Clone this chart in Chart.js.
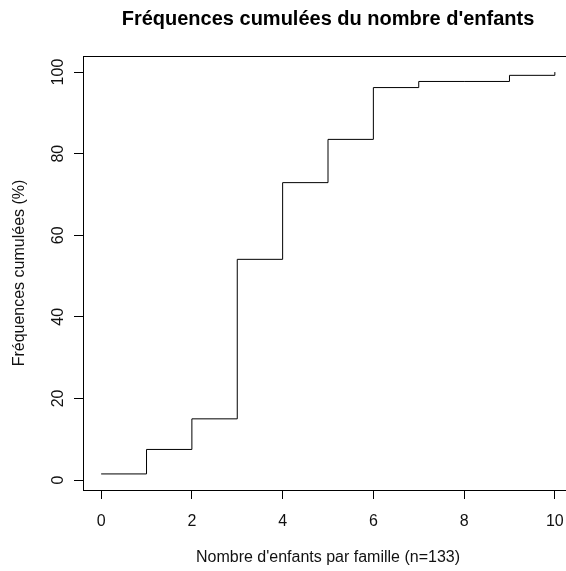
<!DOCTYPE html>
<html><head><meta charset="utf-8">
<script src="https://cdn.jsdelivr.net/npm/chart.js@4/dist/chart.umd.min.js"></script>
<style>html,body{margin:0;padding:0;background:#fff;overflow:hidden;width:566px;height:571px}
#wrap{width:580px;height:571px;position:relative}</style></head>
<body><div id="wrap"><canvas id="c" width="580" height="571"></canvas></div>
<script>
const chartTitle = "Fréquences cumulées du nombre d'enfants";
const xAxisTitle = "Nombre d'enfants par famille (n=133)";
const yAxisTitle = "Fréquences cumulées (%)";
const childCounts = [0, 1, 2, 3, 4, 5, 6, 7, 8, 9, 10];
const cumulativePercent = [1.5, 7.5, 15.0, 54.1, 72.9, 83.5, 96.2, 97.7, 97.7, 99.2, 100];
const xTicks = [0, 2, 4, 6, 8, 10];
const yTicks = [0, 20, 40, 60, 80, 100];

const FONT = '"Liberation Sans", Arial, sans-serif';

const boxPlugin = {
  id: 'box',
  afterDraw(chart) {
    const {ctx, chartArea: a} = chart;
    ctx.save();
    ctx.strokeStyle = '#000';
    ctx.lineWidth = 1;
    ctx.strokeRect(Math.round(a.left) + 0.5, Math.round(a.top) + 0.5,
                   Math.round(a.right - a.left), Math.round(a.bottom - a.top));
    ctx.font = 'bold 20px ' + FONT;
    ctx.fillStyle = '#000';
    ctx.textAlign = 'center';
    ctx.textBaseline = 'middle';
    ctx.fillText(chartTitle, (a.left + a.right) / 2, 19);
    ctx.restore();
  }
};

new Chart(document.getElementById('c'), {
  type: 'line',
  data: {
    datasets: [{
      data: childCounts.map((x, i) => ({x: x, y: cumulativePercent[i]})),
      stepped: 'before',
      borderColor: '#000',
      borderWidth: 1,
      pointRadius: 0,
      fill: false
    }]
  },
  options: {
    responsive: false,
    animation: false,
    layout: {padding: {top: 56, left: 0, right: 7, bottom: 0}},
    plugins: {legend: {display: false}, tooltip: {enabled: false}, title: {display: false}},
    scales: {
      x: {
        type: 'linear',
        min: -0.4, max: 10.4,
        afterBuildTicks: s => { s.ticks = xTicks.map(v => ({value: v})); },
        afterFit: s => { s.height = 81; },
        ticks: {color: '#111', font: {family: FONT, size: 16}, padding: 13, maxRotation: 0},
        grid: {drawOnChartArea: false, drawTicks: true, tickLength: 9, color: '#000'},
        border: {display: true, color: '#000'},
        title: {display: true, text: xAxisTitle, color: '#111', font: {family: FONT, size: 16}, padding: {top: 0, bottom: 4}}
      },
      y: {
        min: -2.44, max: 103.94,
        afterBuildTicks: s => { s.ticks = yTicks.map(v => ({value: v})); },
        afterFit: s => { s.width = 83; },
        ticks: {color: '#111', font: {family: FONT, size: 16}, padding: 2, minRotation: 90, maxRotation: 90, crossAlign: 'center'},
        grid: {drawOnChartArea: false, drawTicks: true, tickLength: 9, color: '#000'},
        border: {display: true, color: '#000'},
        title: {display: true, text: yAxisTitle, color: '#111', font: {family: FONT, size: 16}, padding: {top: 10, bottom: 0}}
      }
    }
  },
  plugins: [boxPlugin]
});
</script></body></html>
